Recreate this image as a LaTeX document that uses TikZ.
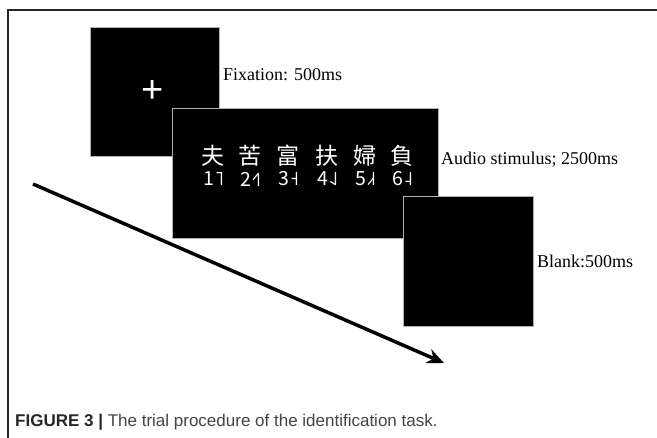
\documentclass[tikz,border=0pt]{standalone}
\usepackage{fontspec}
\usetikzlibrary{arrows.meta}
\setmainfont{Liberation Serif}
\setsansfont{Liberation Sans}
\newfontfamily\cjk{Noto Sans CJK TC}
\newfontfamily\tonefont{DejaVu Sans}
\definecolor{capgray}{HTML}{444444}
\tikzset{scr/.style = {fill=black, draw=black!30, line width=0.8bp, inner sep=0pt, anchor=north west},
           lab/.style = {anchor=west, inner sep=0pt, font=\fontsize{18bp}{20bp}\selectfont},
           hz/.style = {text=white, inner sep=0pt, font=\cjk\fontsize{23bp}{24bp}\selectfont},
           tn/.style = {text=white, inner sep=0pt, font=\cjk\fontsize{19.5bp}{20bp}\selectfont}}

\begin{document}
\begin{tikzpicture}[x=1bp, y=-1bp, >={Stealth[length=17bp, width=15bp]}]
    \useasboundingbox (0,0) rectangle (657,438);
    \draw[line width=1.2bp, black!85] (8,438) -- (8,10) -- (657,10);
    % screens
    \node[scr, minimum width=129bp, minimum height=129bp] (fix) at (90,27) {};
    \node[scr, minimum width=266bp, minimum height=130bp] (aud) at (172,108) {};
    \node[scr, minimum width=130bp, minimum height=130bp] (blk) at (403,196) {};
    \node[text=white, inner sep=0pt, font=\sffamily\fontsize{38bp}{38bp}\selectfont] (plus) at (153,92) {+};
    % syllables
    \node[hz] (c1) at (213,156) {夫}; \node[hz] (c2) at (250,156) {苦}; \node[hz] (c3) at (288,156) {富};
    \node[hz] (c4) at (327,156) {扶}; \node[hz] (c5) at (365,156) {婦}; \node[hz] (c6) at (402,156) {負};
    \node[tn] (t1) at (214,179) {1\tonefont ˥};  \node[tn] (t2) at (251,179) {2\tonefont ˧˥};
    \node[tn] (t3) at (289,179) {3\tonefont ˧};  \node[tn] (t4) at (328,179) {4\tonefont ˨˩};
    \node[tn] (t5) at (366,179) {5\tonefont ˩˧}; \node[tn] (t6) at (403,179) {6\tonefont ˨};
    % labels
    \node[lab] (lfix) at (223,75) {Fixation: 500ms};
    \node[lab] (laud) at (441,160) {Audio stimulus; 2500ms};
    \node[lab] (lblk) at (537,261) {Blank:500ms};
    % time arrow
    \coordinate (s) at (33,184); \coordinate (e) at (444,363);
    \draw[->, line width=3.5bp] (s) -- (e);
    \node[anchor=west, inner sep=0pt, text=capgray, font=\sffamily\fontsize{17bp}{19bp}\selectfont] (cap) at (15,422)
        {\textcolor{black!85}{\bfseries FIGURE 3 |} The trial procedure of the identification task.};
\end{tikzpicture}
\end{document}
